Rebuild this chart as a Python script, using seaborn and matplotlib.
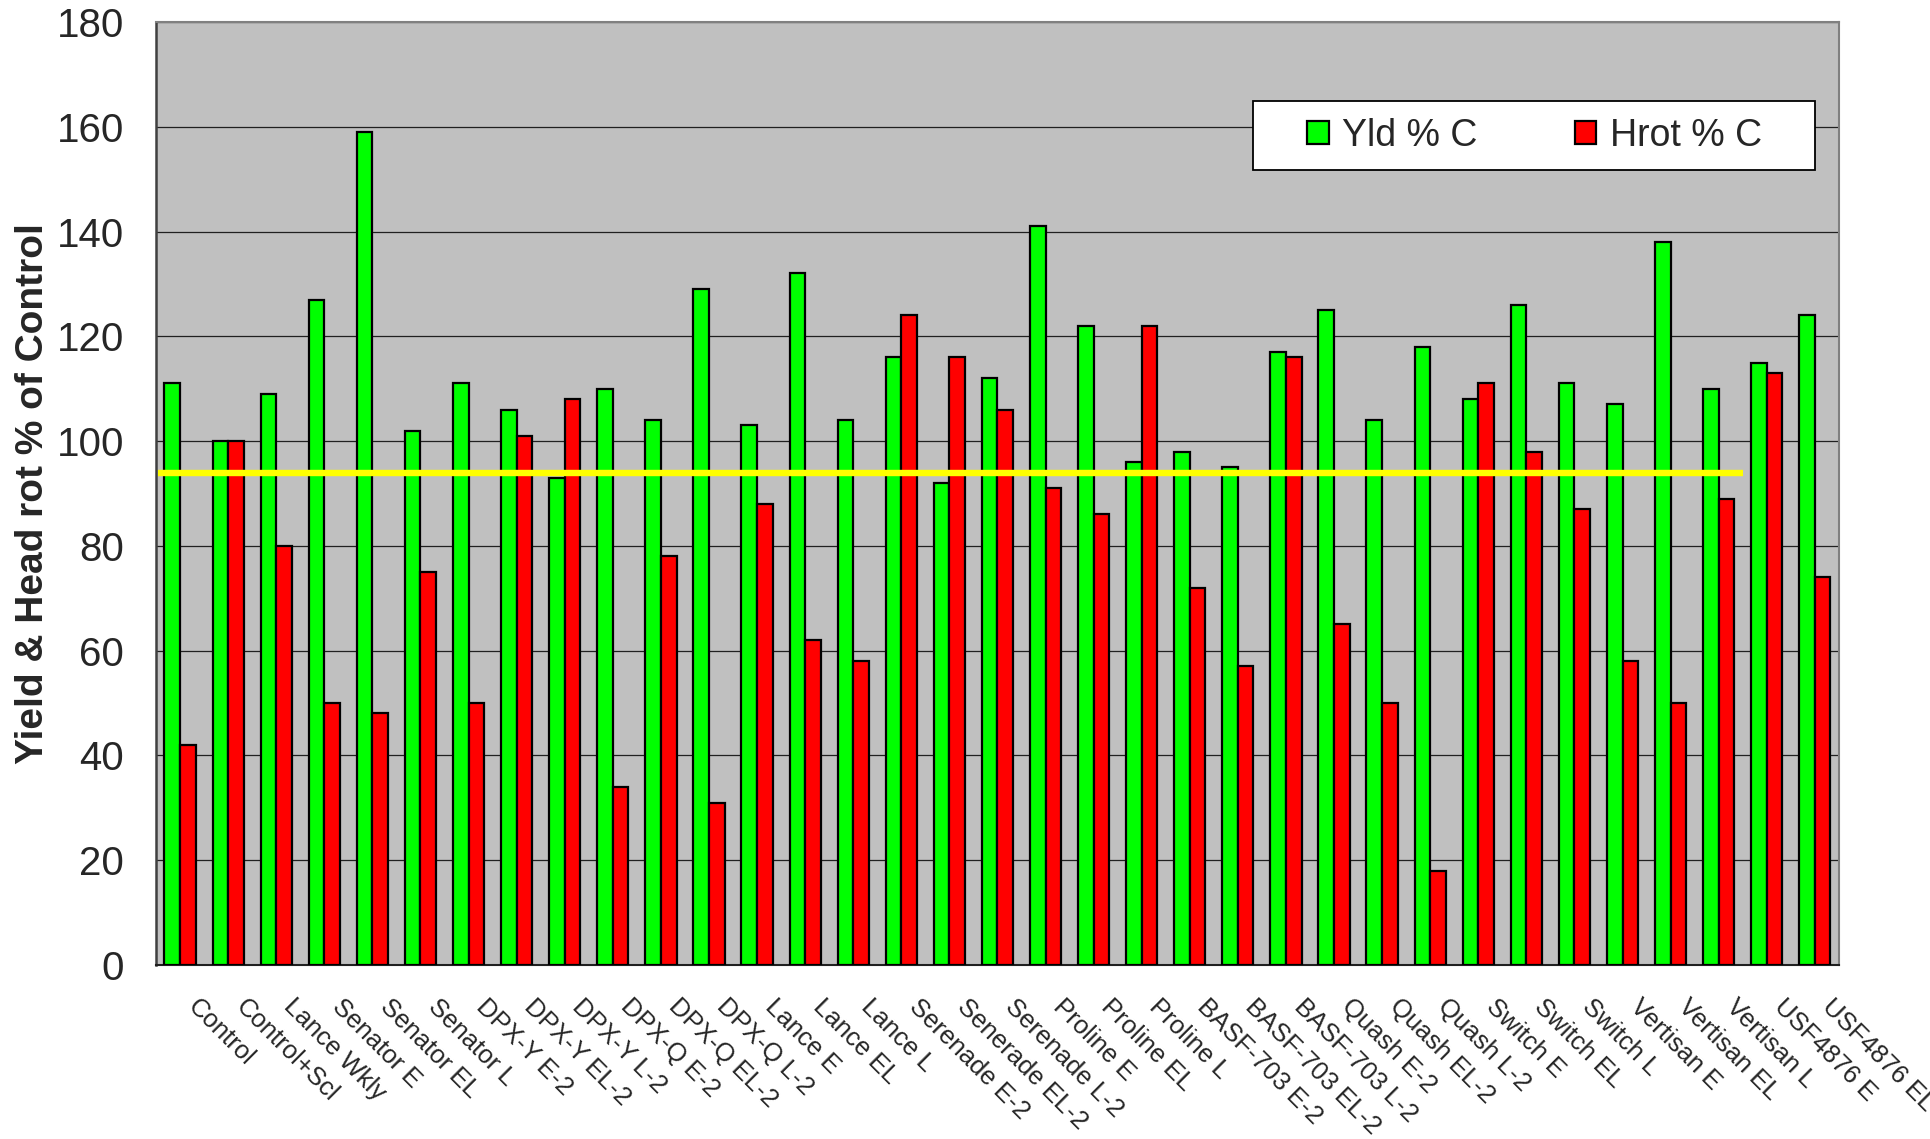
import numpy as np
import pandas as pd
import seaborn as sns
import matplotlib
matplotlib.use("Agg")
import matplotlib.pyplot as plt
from matplotlib.patches import Rectangle
from matplotlib.transforms import ScaledTranslation

# treatments in chart order
categories = ["Control", "Control+Scl", "Lance Wkly", "Senator E", "Senator EL", "Senator L",
              "DPX-Y E-2", "DPX-Y EL-2", "DPX-Y L-2", "DPX-Q E-2", "DPX-Q EL-2", "DPX-Q L-2",
              "Lance E", "Lance EL", "Lance L", "Serenade E-2", "Senerade EL-2", "Serenade L-2",
              "Proline E", "Proline EL", "Proline L", "BASF-703 E-2", "BASF-703 EL-2", "BASF-703 L-2",
              "Quash E-2", "Quash EL-2", "Quash L-2", "Switch E", "Switch EL", "Switch L",
              "Vertisan E", "Vertisan EL", "Vertisan L", "USF4876 E", "USF4876 EL"]

# yield as % of control
yld_pct = [111, 100, 109, 127, 159, 102, 111, 106, 93, 110, 104, 129,
           103, 132, 104, 116, 92, 112, 141, 122, 96, 98, 95, 117,
           125, 104, 118, 108, 126, 111, 107, 138, 110, 115, 124]

# head rot as % of control
hrot_pct = [42, 100, 80, 50, 48, 75, 50, 101, 108, 34, 78, 31,
            88, 62, 58, 124, 116, 106, 91, 86, 122, 72, 57, 116,
            65, 50, 18, 111, 98, 87, 58, 50, 89, 113, 74]

series_names = ["Yld % C", "Hrot % C"]
threshold = 94
threshold_last = "Vertisan L"

df = pd.DataFrame({
    "treatment": categories * 2,
    "series": [series_names[0]] * len(categories) + [series_names[1]] * len(categories),
    "value": yld_pct + hrot_pct,
})

sns.set_style("white")
plt.rcParams["font.family"] = ["Liberation Sans", "DejaVu Sans"]

fig = plt.figure(figsize=(19.31, 11.39), dpi=100)
ax = fig.add_axes([0.0808, 0.1528, 0.8715, 0.8279])

sns.barplot(data=df, x="treatment", y="value", hue="series",
            palette={"Yld % C": "#00FF00", "Hrot % C": "#FF0000"},
            width=0.65, saturation=1, edgecolor="black", linewidth=1.6,
            ax=ax, zorder=3)

ax.set_facecolor("#C0C0C0")
ax.set_ylim(0, 180)
ax.set_xlim(-0.5, len(categories) - 0.5)
ax.set_yticks(np.arange(0, 181, 20))
ax.yaxis.grid(True, color="#202020", linewidth=0.9)
ax.set_axisbelow(True)

# yellow reference line
ax.plot([-0.45, categories.index(threshold_last) + 0.5], [threshold, threshold],
        color="#FFFF00", linewidth=4.6, zorder=4, solid_capstyle="butt")

# axis labels / ticks
ax.set_xlabel("")
ax.set_ylabel("Yield & Head rot % of Control", fontsize=28, fontweight="bold", labelpad=4)
ax.tick_params(axis="y", labelsize=29, length=9, width=1.2, direction="out", color="#404040", pad=14)
ax.set_xticks(np.arange(-0.5, len(categories), 1), minor=True)
ax.tick_params(axis="x", which="minor", length=8, width=1.2, direction="out", color="#404040")
ax.tick_params(axis="x", which="major", length=0, labelsize=18.5, pad=21)
plt.setp(ax.get_xticklabels(), rotation=-45, ha="left", va="top", rotation_mode="anchor")
shift = ScaledTranslation(0.2, 0, fig.dpi_scale_trans)
for lab in ax.get_xticklabels():
    lab.set_transform(lab.get_transform() + shift)

for side in ["top", "right"]:
    ax.spines[side].set_color("#808080")
    ax.spines[side].set_linewidth(1.5)
ax.spines["left"].set_color("#404040")
ax.spines["left"].set_linewidth(1.8)
ax.spines["bottom"].set_color("#202020")
ax.spines["bottom"].set_linewidth(1.5)

# legend: white box plus frameless legend centred in it
bx, by, bw, bh = 0.652, 0.843, 0.334, 0.073
box = Rectangle((bx, by), bw, bh, transform=ax.transAxes,
                facecolor="white", edgecolor="black", linewidth=1.3, zorder=5)
ax.add_patch(box)
handles, labels = ax.get_legend_handles_labels()
leg = ax.legend(handles, labels, ncol=2, loc="center",
                bbox_to_anchor=(bx + bw / 2, by + bh / 2),
                fontsize=27, frameon=False, handlelength=0.58, handleheight=0.58,
                handletextpad=0.35, borderpad=0.2, columnspacing=2.6)
leg.set_zorder(6)

fig.savefig("out.png", dpi=100)
